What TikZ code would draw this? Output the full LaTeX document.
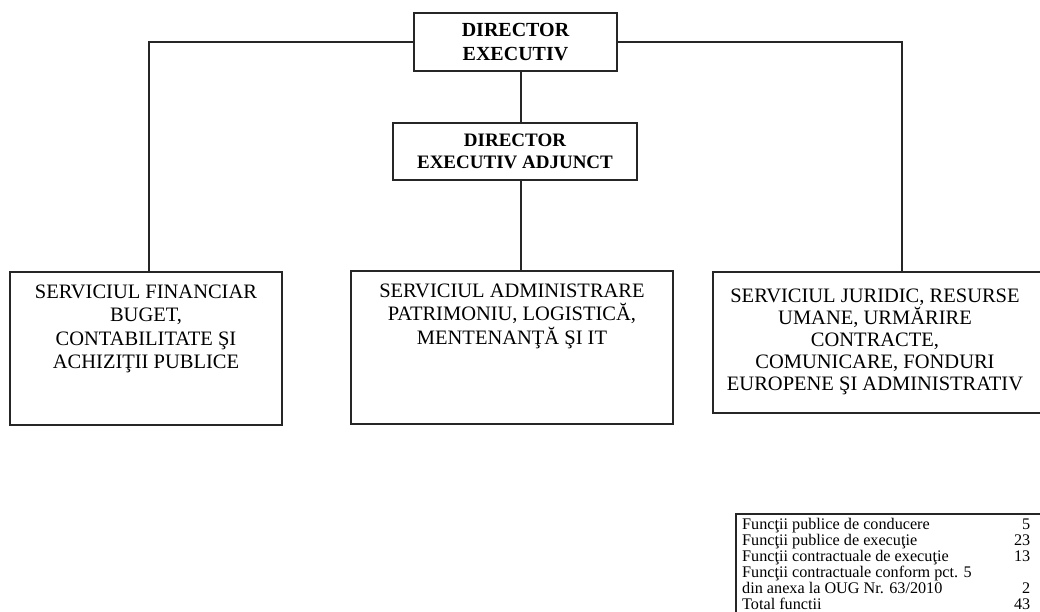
\documentclass[tikz,border=0pt]{standalone}
\usepackage{fontspec}
\setmainfont{Liberation Serif}
\usepackage{array}
\begin{document}
\begin{tikzpicture}[x=1pt,y=-1pt,
  box/.style={draw=black!85,line width=1.8pt,inner sep=0pt,align=center},
  boxtext/.style={font=\fontsize{20.5}{23.5}\selectfont},
  conn/.style={draw=black!85,line width=1.6pt}]
\path[use as bounding box] (0,0) rectangle (1040,612);
\clip (0,0) rectangle (1040,612);
% boxes
\node[box,minimum width=203pt,minimum height=58pt,font=\bfseries\fontsize{20}{24}\selectfont] (dir) at (515.5,42) {DIRECTOR\\EXECUTIV};
\node[box,minimum width=244pt,minimum height=57pt,font=\bfseries\fontsize{19}{21.5}\selectfont] (adj) at (515,151.5) {DIRECTOR\\EXECUTIV ADJUNCT};
\node[box,minimum width=272pt,minimum height=153pt] (fin) at (146,348.5) {};
\node[boxtext,align=center,anchor=north] (fint) at (146,281) {SERVICIUL FINANCIAR\\BUGET,\\CONTABILITATE ŞI\\ACHIZIŢII PUBLICE};
\node[box,minimum width=322pt,minimum height=153pt] (adm) at (512,347.5) {};
\node[boxtext,align=center,anchor=north] (admt) at (512,280) {SERVICIUL ADMINISTRARE\\PATRIMONIU, LOGISTICĂ,\\MENTENANŢĂ ŞI IT};
\node[box,minimum width=330pt,minimum height=141pt] (jur) at (878,342.5) {};
\node[align=center,anchor=north,font=\fontsize{20.5}{22}\selectfont] (jurt) at (875,285) {SERVICIUL JURIDIC, RESURSE\\UMANE, URMĂRIRE\\CONTRACTE,\\COMUNICARE, FONDURI\\EUROPENE ŞI ADMINISTRATIV};
% coordinates for connector positions
\coordinate (mx) at (521,0);
\coordinate (lx) at (149,0);
\coordinate (rx) at (902,0);
% connectors
\draw[conn] (dir.west) -- (dir.west -| lx) -- (fin.north -| lx);
\draw[conn] (dir.east) -- (dir.east -| rx) -- (jur.north -| rx);
\draw[conn] (dir.south -| mx) -- (adj.north -| mx);
\draw[conn] (adj.south -| mx) -- (adm.north -| mx);
% table
\draw[black!85,line width=1.2pt] (736,514) rectangle (1060,640);
\node[anchor=north west,inner sep=0pt,font=\fontsize{16.2}{15.2}\selectfont] (tab) at (742,518.5)
{\begin{tabular*}{288pt}{@{}l@{\extracolsep{\fill}}r@{}}
Funcţii publice de conducere & 5\\
Funcţii publice de execuţie & 23\\
Funcţii contractuale de execuţie & 13\\
Funcţii contractuale conform pct. 5 & \\
din anexa la OUG Nr. 63/2010 & 2\\
Total functii & 43
\end{tabular*}};
\end{tikzpicture}
\end{document}
